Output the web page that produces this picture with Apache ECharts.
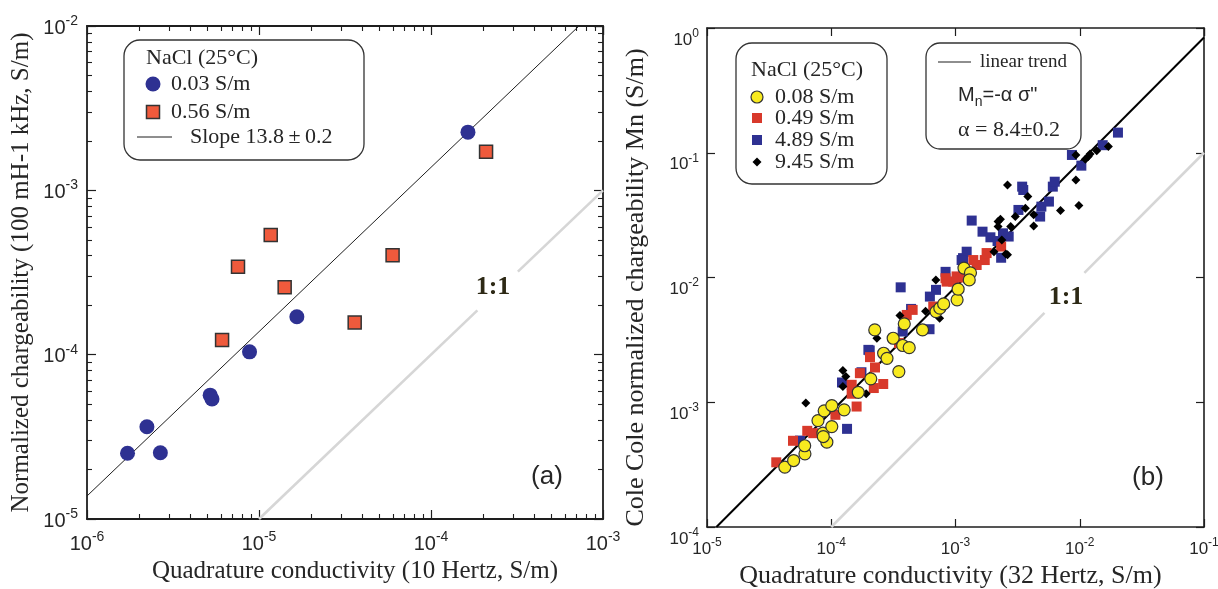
<!DOCTYPE html>
<html>
<head>
<meta charset="utf-8">
<script src="https://cdn.jsdelivr.net/npm/echarts@6/dist/echarts.min.js"></script>
<style>
  html, body { margin: 0; padding: 0; background: #fff; }
  #chart { width: 1218px; height: 589px; }
</style>
</head>
<body>
<div id="chart"></div>
<script>
// ---- Panel (a): normalized chargeability vs quadrature conductivity at 10 Hz ----
// [quadrature conductivity (S/m), normalized chargeability (S/m)]
const naclA003 = [
  [1.72e-6, 2.51e-5], [2.23e-6, 3.64e-5], [2.67e-6, 2.53e-5], [5.20e-6, 5.67e-5],
  [5.33e-6, 5.37e-5], [8.81e-6, 1.04e-4], [1.66e-5, 1.70e-4], [1.64e-4, 2.26e-3]
];
const naclA056 = [
  [6.10e-6, 1.23e-4], [7.55e-6, 3.43e-4], [1.17e-5, 5.35e-4], [1.41e-5, 2.57e-4],
  [3.60e-5, 1.57e-4], [5.98e-5, 4.02e-4], [2.09e-4, 1.72e-3]
];
const slopeA = 13.8;
const slopeAErr = 0.2;
const extentA = { xMin: 1e-6, xMax: 1e-3, yMin: 1e-5, yMax: 1e-2 };
const oneToOneA = [[[1e-5, 1e-5], [1.86e-4, 1.86e-4]], [[3.2e-4, 3.2e-4], [1e-3, 1e-3]]];

// ---- Panel (b): Cole Cole normalized chargeability vs quadrature conductivity at 32 Hz ----
const naclB008 = [
  [4.23e-5, 3.02e-4], [4.98e-5, 3.41e-4], [6.14e-5, 3.86e-4], [6.11e-5, 4.48e-4],
  [7.82e-5, 7.13e-4], [8.57e-5, 5.65e-4], [9.22e-5, 4.79e-4], [1.01e-4, 6.38e-4],
  [8.77e-5, 8.53e-4], [1.01e-4, 9.41e-4], [1.27e-4, 8.69e-4], [1.65e-4, 1.20e-3],
  [2.08e-4, 1.54e-3], [3.50e-4, 1.76e-3], [2.64e-4, 2.47e-3], [2.81e-4, 2.25e-3],
  [2.24e-4, 3.80e-3], [3.15e-4, 3.26e-3], [3.76e-4, 2.85e-3], [4.24e-4, 2.74e-3],
  [3.87e-4, 4.25e-3], [5.43e-4, 3.80e-3], [6.97e-4, 5.33e-3], [7.48e-4, 5.68e-3],
  [8.03e-4, 6.14e-3], [1.03e-3, 6.62e-3], [1.05e-3, 8.06e-3], [1.17e-3, 1.19e-2],
  [1.32e-3, 1.09e-2], [1.29e-3, 9.57e-3], [8.63e-5, 5.31e-4]
];
const naclB049 = [
  [3.61e-5, 3.30e-4], [4.92e-5, 4.91e-4], [6.41e-5, 5.90e-4], [7.17e-5, 5.65e-4],
  [1.08e-4, 7.93e-4], [1.60e-4, 9.24e-4], [1.46e-4, 1.17e-3], [1.46e-4, 1.38e-3],
  [2.20e-4, 1.30e-3], [2.62e-4, 1.40e-3], [2.25e-4, 1.90e-3], [1.70e-4, 1.71e-3],
  [2.05e-4, 2.30e-3], [3.51e-4, 2.98e-3], [4.05e-4, 5.01e-3], [4.52e-4, 5.50e-3],
  [6.62e-4, 5.85e-3], [8.48e-4, 9.27e-3], [9.59e-4, 9.27e-3], [1.02e-3, 1.02e-2],
  [1.39e-3, 1.38e-2], [1.72e-3, 1.38e-2], [1.78e-3, 1.57e-2], [1.48e-3, 1.26e-2],
  [2.33e-3, 1.77e-2], [8.31e-4, 9.87e-3], [1.15e-3, 1.00e-2]
];
const naclB489 = [
  [5.60e-5, 4.93e-4], [1.34e-4, 6.12e-4], [1.22e-4, 1.44e-3], [1.75e-4, 1.74e-3],
  [2.04e-4, 2.60e-3], [3.62e-4, 8.34e-3], [3.76e-4, 3.69e-3], [4.39e-4, 5.60e-3],
  [6.18e-4, 3.85e-3], [6.97e-4, 7.96e-3], [8.32e-4, 1.11e-2], [1.15e-3, 1.43e-2],
  [1.23e-3, 1.61e-2], [2.33e-3, 1.44e-2], [1.35e-3, 2.86e-2], [1.65e-3, 2.33e-2],
  [1.91e-3, 2.10e-2], [2.18e-3, 1.96e-2], [1.12e-3, 1.38e-2], [6.22e-4, 7.03e-3],
  [1.99e-4, 2.63e-3], [2.41e-3, 2.26e-2], [2.68e-3, 2.13e-2], [3.21e-3, 3.48e-2],
  [3.44e-3, 5.35e-2], [4.80e-3, 3.08e-2], [4.91e-3, 3.70e-2], [5.65e-3, 4.06e-2],
  [6.07e-3, 5.35e-2], [6.29e-3, 5.86e-2], [8.65e-3, 9.60e-2], [1.03e-2, 7.88e-2],
  [1.53e-2, 1.15e-1], [2.03e-2, 1.45e-1], [3.51e-3, 5.03e-2]
];
const naclB945 = [
  [6.24e-5, 9.84e-4], [1.24e-4, 1.80e-3], [1.31e-4, 1.61e-3], [1.24e-4, 1.34e-3],
  [1.91e-4, 1.17e-3], [2.33e-4, 3.26e-3], [3.57e-4, 4.97e-3], [5.74e-4, 5.36e-3],
  [6.95e-4, 9.57e-3], [7.45e-4, 4.72e-3], [2.04e-3, 1.61e-2], [2.62e-3, 1.52e-2],
  [2.20e-3, 2.81e-2], [2.20e-3, 2.56e-2], [2.62e-3, 5.52e-2], [2.30e-3, 2.93e-2],
  [2.36e-3, 2.00e-2], [2.78e-3, 2.56e-2], [3.03e-3, 3.08e-2], [3.65e-3, 3.59e-2],
  [3.82e-3, 4.45e-2], [4.26e-3, 3.18e-2], [4.26e-3, 2.59e-2], [7.00e-3, 3.44e-2],
  [9.84e-3, 3.77e-2], [9.31e-3, 6.05e-2], [9.31e-3, 9.60e-2], [1.11e-2, 8.86e-2],
  [1.17e-2, 9.31e-2], [1.37e-2, 1.04e-1], [1.70e-2, 1.12e-1], [1.21e-2, 9.78e-2],
  [2.54e-3, 1.54e-2]
];
const alphaB = 8.4;
const alphaBErr = 0.2;
const extentB = { xMin: 1e-5, xMax: 1e-1, yMin: 1e-4, yMax: 1e0 };
const oneToOneB = [[[1e-4, 1e-4], [5.2e-3, 5.2e-3]], [[1.09e-2, 1.09e-2], [1e-1, 1e-1]]];

const legendA = ['0.03 S/m', '0.56 S/m'];
const legendB = ['0.08 S/m', '0.49 S/m', '4.89 S/m', '9.45 S/m'];

// ---- styling ----
const INK = '#1e1e1e';
const TXT = '#262626';
const SERIF = '"Liberation Serif", "Times New Roman", serif';
const SANS = '"Liberation Sans", Arial, sans-serif';
const C_BLUE = '#2e3192';
const C_ORANGE = '#ef5a3c';
const C_RED = '#d8392b';
const C_YELLOW = '#f8ea1f';
const C_GREY = '#d6d6d6';

const gridA = { left: 87, top: 26, width: 516, height: 493 };
const gridB = { left: 707, top: 28, width: 497, height: 499 };

// minor tick positions 2..9 within each decade
function minorTicks(lo, hi) {
  const out = [];
  for (let e = Math.round(Math.log10(lo)); e < Math.round(Math.log10(hi)); e++) {
    for (let m = 2; m <= 9; m++) out.push(m * Math.pow(10, e));
  }
  return out;
}

function decadeRich(size, expSize) {
  return {
    b: { fontSize: size, fontFamily: SANS, color: TXT, lineHeight: size + 4, verticalAlign: 'bottom' },
    e: { fontSize: expSize, fontFamily: SANS, color: TXT, lineHeight: expSize, verticalAlign: 'top' }
  };
}
const decadeLabel = v => `{b|10}{e|${Math.round(Math.log10(v))}}`;

function logAxis(o) {
  return {
    type: 'log', logBase: 10, gridIndex: o.grid, position: o.pos,
    min: o.min, max: o.max,
    axisLine: { show: o.line !== false, onZero: false, lineStyle: { color: INK, width: o.lw || 1.8 } },
    axisTick: o.custom
      ? { show: true, inside: true, length: o.tick, customValues: o.custom, lineStyle: { color: INK, width: 1.1 } }
      : { show: true, inside: true, length: o.tick, lineStyle: { color: INK, width: 1.2 } },
    minorTick: { show: false },
    splitLine: { show: false },
    axisLabel: o.label
      ? Object.assign({ show: true, formatter: decadeLabel, rich: decadeRich(o.label.size, o.label.exp), margin: o.label.margin }, o.label.extra || {})
      : { show: false },
    name: o.name || '',
    nameLocation: 'middle',
    nameGap: o.gap || 0,
    nameTextStyle: Object.assign({ fontFamily: SERIF, fontSize: 25, color: TXT }, o.nameStyle || {}),
    silent: true
  };
}

const labA = { size: 20, exp: 14, margin: 11 };
const labAy = { size: 20, exp: 14, margin: 9 };
const labB = { size: 17, exp: 12, margin: 10 };
const labBy = { size: 17, exp: 12, margin: 8, extra: { padding: [20, 0, 0, 0] } };

const minorAX = minorTicks(extentA.xMin, extentA.xMax);
const minorAY = minorTicks(extentA.yMin, extentA.yMax);

const xAxes = [
  logAxis({ grid: 0, pos: 'bottom', min: extentA.xMin, max: extentA.xMax, tick: 9, label: labA,
    name: 'Quadrature conductivity (10 Hertz, S/m)', gap: 39, nameStyle: { padding: [0, 0, 0, 20] } }),
  logAxis({ grid: 0, pos: 'bottom', min: extentA.xMin, max: extentA.xMax, tick: 5, line: false, custom: minorAX }),
  logAxis({ grid: 0, pos: 'top', min: extentA.xMin, max: extentA.xMax, tick: 9 }),
  logAxis({ grid: 0, pos: 'top', min: extentA.xMin, max: extentA.xMax, tick: 5, line: false, custom: minorAX }),
  logAxis({ grid: 1, pos: 'bottom', min: extentB.xMin, max: extentB.xMax, tick: 8, lw: 1.6, label: labB,
    name: 'Quadrature conductivity (32 Hertz, S/m)', gap: 33, nameStyle: { fontSize: 26, padding: [0, 10, 0, 0] } }),
  logAxis({ grid: 1, pos: 'top', min: extentB.xMin, max: extentB.xMax, tick: 8, lw: 1.6 })
];
const yAxes = [
  logAxis({ grid: 0, pos: 'left', min: extentA.yMin, max: extentA.yMax, tick: 9, label: labAy,
    name: 'Normalized chargeability (100 mH-1 kHz, S/m)', gap: 53 }),
  logAxis({ grid: 0, pos: 'left', min: extentA.yMin, max: extentA.yMax, tick: 5, line: false, custom: minorAY }),
  logAxis({ grid: 0, pos: 'right', min: extentA.yMin, max: extentA.yMax, tick: 9 }),
  logAxis({ grid: 0, pos: 'right', min: extentA.yMin, max: extentA.yMax, tick: 5, line: false, custom: minorAY }),
  logAxis({ grid: 1, pos: 'left', min: extentB.yMin, max: extentB.yMax, tick: 8, lw: 1.6, label: labBy,
    name: 'Cole Cole normalized chargeability Mn (S/m)', gap: 58, nameStyle: { fontSize: 26, padding: [0, 20, 0, 0] } }),
  logAxis({ grid: 1, pos: 'right', min: extentB.yMin, max: extentB.yMax, tick: 8, lw: 1.6 })
];

function lineSeries(axis, data, color, width) {
  return {
    type: 'line', xAxisIndex: axis, yAxisIndex: axis, data: data,
    showSymbol: false, symbol: 'none', silent: true,
    lineStyle: { color: color, width: width }, z: 2
  };
}
function scatter(axis, data, symbol, size, color, border, bw) {
  return {
    type: 'scatter', xAxisIndex: axis, yAxisIndex: axis, data: data,
    symbol: symbol, symbolSize: size, silent: true,
    itemStyle: { color: color, borderColor: border || color, borderWidth: bw || 0, opacity: 1 }, z: 3
  };
}

// fitted lines from the stated slopes
const fitA = [[extentA.xMin, slopeA * extentA.xMin], [extentA.yMax / slopeA, extentA.yMax]];
const fitB = [[extentB.yMin / alphaB, extentB.yMin], [extentB.xMax, alphaB * extentB.xMax]];

const series = [
  lineSeries(0, oneToOneA[0], C_GREY, 2.6),
  lineSeries(0, oneToOneA[1], C_GREY, 2.6),
  lineSeries(0, fitA, INK, 1),
  scatter(0, naclA003, 'circle', 15, C_BLUE),
  scatter(0, naclA056, 'rect', 13, C_ORANGE, '#333', 1.5),

  lineSeries(4, oneToOneB[0], C_GREY, 2.6),
  lineSeries(4, oneToOneB[1], C_GREY, 2.6),
  lineSeries(4, fitB, '#000', 2),
  scatter(4, naclB489, 'rect', 10, C_BLUE),
  scatter(4, naclB049, 'rect', 10, C_RED),
  scatter(4, naclB945, 'diamond', 9, '#000'),
  scatter(4, naclB008, 'circle', 12, C_YELLOW, '#333', 1.2)
];

// legend boxes and annotations
function txt(x, y, text, font, align, fill) {
  return {
    type: 'text', x: x, y: y, silent: true, z: 20,
    style: { text: text, font: font, fill: fill || TXT, align: align || 'left', verticalAlign: 'middle' }
  };
}
const fS22 = '22px ' + SERIF;
const graphics = [
  // panel (a) legend
  { type: 'rect', z: 19, silent: true, shape: { x: 124, y: 40, width: 240, height: 120, r: 16 },
    style: { fill: '#fff', stroke: '#333', lineWidth: 1.3 } },
  txt(146, 58, 'NaCl (25°C)', fS22),
  { type: 'circle', z: 20, silent: true, shape: { cx: 153, cy: 84, r: 7.5 }, style: { fill: C_BLUE } },
  txt(171, 84, legendA[0], fS22),
  { type: 'rect', z: 20, silent: true, shape: { x: 146.5, y: 105.5, width: 13, height: 13 },
    style: { fill: C_ORANGE, stroke: '#333', lineWidth: 1.5 } },
  txt(171, 112, legendA[1], fS22),
  { type: 'line', z: 20, silent: true, shape: { x1: 137, y1: 137, x2: 172, y2: 137 }, style: { stroke: INK, lineWidth: 1 } },
  txt(190, 137, `Slope ${slopeA}\u2009±\u2009${slopeAErr}`, fS22),

  // panel (b) salinity legend
  { type: 'rect', z: 19, silent: true, shape: { x: 736, y: 43, width: 151, height: 141, r: 16 },
    style: { fill: '#fff', stroke: '#333', lineWidth: 1.3 } },
  txt(751, 70, 'NaCl (25°C)', fS22),
  { type: 'circle', z: 20, silent: true, shape: { cx: 757, cy: 97, r: 6 }, style: { fill: C_YELLOW, stroke: '#333', lineWidth: 1.2 } },
  txt(775, 97, legendB[0], fS22),
  { type: 'rect', z: 20, silent: true, shape: { x: 752, y: 113, width: 10, height: 10 }, style: { fill: C_RED } },
  txt(775, 118, legendB[1], fS22),
  { type: 'rect', z: 20, silent: true, shape: { x: 752, y: 135, width: 10, height: 10 }, style: { fill: C_BLUE } },
  txt(775, 140, legendB[2], fS22),
  { type: 'polygon', z: 20, silent: true, shape: { points: [[757, 157.5], [761.5, 162], [757, 166.5], [752.5, 162]] }, style: { fill: '#000' } },
  txt(775, 162, legendB[3], fS22),

  // panel (b) trend legend
  { type: 'rect', z: 19, silent: true, shape: { x: 926, y: 43, width: 155, height: 106, r: 14 },
    style: { fill: '#fff', stroke: '#333', lineWidth: 1.3 } },
  { type: 'line', z: 20, silent: true, shape: { x1: 938, y1: 62, x2: 971, y2: 62 }, style: { stroke: INK, lineWidth: 1.2 } },
  txt(980, 62, 'linear trend', '19px ' + SERIF),
  { type: 'text', x: 958, y: 97, z: 20, silent: true,
    style: { text: '{m|M}{s|n}{m|=-α σ"}', fill: TXT, align: 'left', verticalAlign: 'middle',
      rich: {
        m: { fontSize: 20, fontFamily: SANS, fill: TXT, lineHeight: 24, verticalAlign: 'top' },
        s: { fontSize: 14, fontFamily: SANS, fill: TXT, lineHeight: 14, verticalAlign: 'bottom' }
      } } },
  txt(958, 130, `α = ${alphaB}±${alphaBErr}`, fS22),

  // 1:1 annotations and panel tags
  txt(493, 287, '1:1', 'bold 26px ' + SERIF, 'center', '#2d2915'),
  txt(1066, 297, '1:1', 'bold 26px ' + SERIF, 'center', '#2d2915'),
  txt(547, 477, '(a)', '26px ' + SANS, 'center'),
  txt(1148, 478, '(b)', '26px ' + SANS, 'center')
];

const chart = echarts.init(document.getElementById('chart'), null, { renderer: 'canvas', width: 1218, height: 589 });
chart.setOption({
  backgroundColor: '#ffffff',
  animation: false,
  grid: [
    Object.assign({ containLabel: false, outerBoundsMode: 'none' }, gridA),
    Object.assign({ containLabel: false, outerBoundsMode: 'none' }, gridB)
  ],
  xAxis: xAxes,
  yAxis: yAxes,
  series: series,
  graphic: graphics
});
</script>
</body>
</html>
